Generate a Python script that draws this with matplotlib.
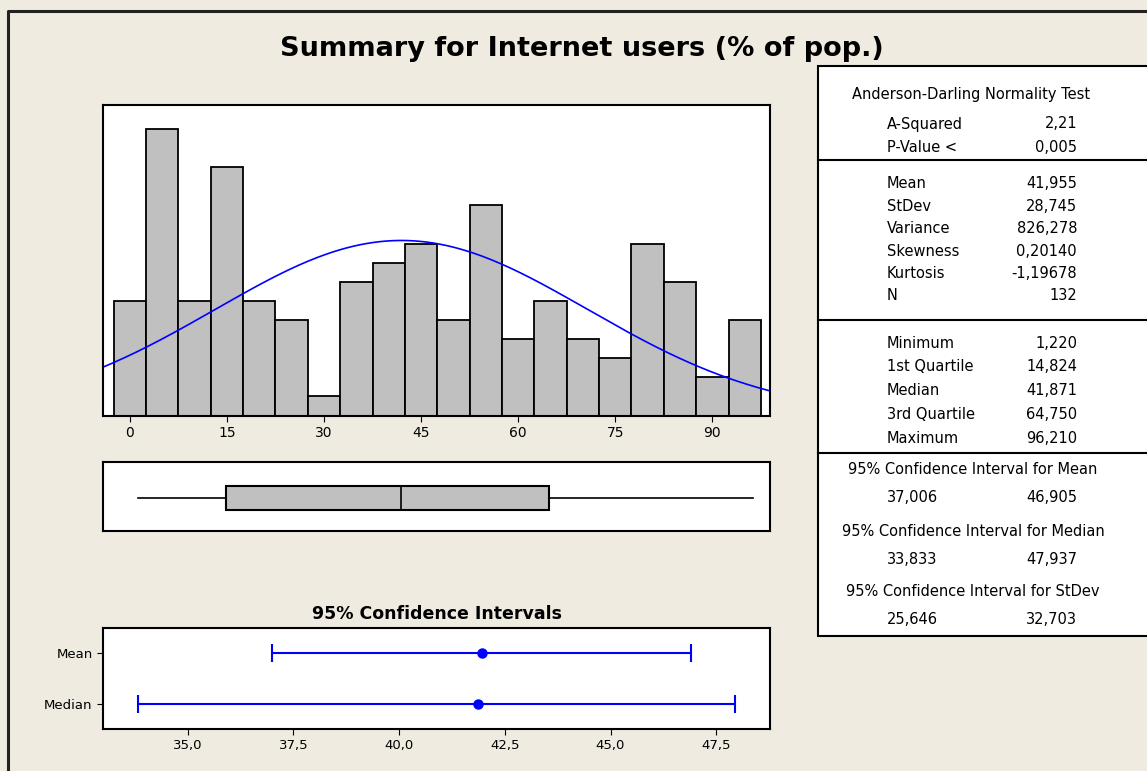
import numpy as np
import matplotlib
matplotlib.use('Agg')
import matplotlib.pyplot as plt
from matplotlib.patches import Rectangle

# histogram data (bin width 5, counts)
bin_centers = [0, 5, 10, 15, 20, 25, 30, 35, 40, 45, 50, 55, 60, 65, 70, 75, 80, 85, 90, 95]
counts = [6, 15, 6, 13, 6, 5, 1, 7, 8, 9, 5, 11, 4, 6, 4, 3, 9, 7, 2, 5]
hist_ticks = [0, 15, 30, 45, 60, 75, 90]

# summary statistics
n_obs = 132
mean_val = 41.955
stdev_val = 28.745
five_num = [1.220, 14.824, 41.871, 64.750, 96.210]  # min, q1, median, q3, max

# confidence intervals
ci_labels = ['Mean', 'Median']
ci_centers = [41.955, 41.871]
ci_low = [37.006, 33.833]
ci_high = [46.905, 47.937]
ci_ticks = [35.0, 37.5, 40.0, 42.5, 45.0, 47.5]
ci_ticklabels = ['35,0', '37,5', '40,0', '42,5', '45,0', '47,5']

# right hand table
ad_rows = [('A-Squared', '2,21'), ('P-Value <', '0,005')]
moment_rows = [('Mean', '41,955'), ('StDev', '28,745'), ('Variance', '826,278'),
               ('Skewness', '0,20140'), ('Kurtosis', '-1,19678'), ('N', '132')]
quart_rows = [('Minimum', '1,220'), ('1st Quartile', '14,824'), ('Median', '41,871'),
              ('3rd Quartile', '64,750'), ('Maximum', '96,210')]
ci_rows = [('95% Confidence Interval for Mean', '37,006', '46,905'),
           ('95% Confidence Interval for Median', '33,833', '47,937'),
           ('95% Confidence Interval for StDev', '25,646', '32,703')]

W, H = 1147, 771
BG = '#EFEBE1'
plt.rcParams['font.family'] = 'DejaVu Sans'

fig = plt.figure(figsize=(W / 100, H / 100), dpi=100)
fig.patch.set_facecolor(BG)


def px_axes(x0, y0, x1, y1):
    return fig.add_axes([x0 / W, 1 - y1 / H, (x1 - x0) / W, (y1 - y0) / H])


# background layer in pixel coordinates
bg = fig.add_axes([0, 0, 1, 1], zorder=0)
bg.set_xlim(0, W)
bg.set_ylim(H, 0)
bg.axis('off')
bg.plot([8, 8, W + 5], [H + 5, 11, 11], color='#222222', lw=2.2, clip_on=False)
bg.text(582, 56, 'Summary for Internet users (% of pop.)', ha='center', va='baseline',
        fontsize=19.5, fontweight='bold')

# stats table
bg.add_patch(Rectangle((818, 66), 340, 570, facecolor='white', edgecolor='black', lw=1.5,
                       clip_on=False))
for yl in [160, 320, 453]:
    bg.plot([818, W + 5], [yl, yl], color='black', lw=1.5, clip_on=False)
fs = 10.5
bg.text(971, 94, 'Anderson-Darling Normality Test', ha='center', va='center', fontsize=fs)


def rows(items, y0, dy):
    for i, (lab, val) in enumerate(items):
        y = y0 + i * dy
        bg.text(887, y, lab, ha='left', va='center', fontsize=fs)
        bg.text(1077, y, val, ha='right', va='center', fontsize=fs)


rows(ad_rows, 124, 23)
rows(moment_rows, 184, 22.4)
rows(quart_rows, 343, 23.8)
for i, (head, lo, hi) in enumerate(ci_rows):
    y = 470 + i * 61
    bg.text(973, y, head, ha='center', va='center', fontsize=fs)
    bg.text(887, y + 28, lo, ha='left', va='center', fontsize=fs)
    bg.text(1077, y + 28, hi, ha='right', va='center', fontsize=fs)

xlo, xhi = -4.15, 98.9

# histogram with fitted normal curve
ax = px_axes(103, 105, 770, 415.5)
ax.set_zorder(1)
ax.bar(bin_centers, counts, width=5, color='#C0C0C0', edgecolor='black', lw=1.3)
xs = np.linspace(xlo, xhi, 300)
ys = n_obs * 5 * np.exp(-0.5 * ((xs - mean_val) / stdev_val) ** 2) / (stdev_val * np.sqrt(2 * np.pi))
ax.plot(xs, ys, color='blue', lw=1.2)
ax.set_xlim(xlo, xhi)
ax.set_ylim(0, 16.25)
ax.set_yticks([])
ax.set_xticks(hist_ticks)
ax.tick_params(axis='x', direction='out', length=4, labelsize=10)
for s in ax.spines.values():
    s.set_linewidth(1.5)

# box plot
axb = px_axes(103, 462, 770, 531)
axb.set_zorder(1)
stats = [{'whislo': five_num[0], 'q1': five_num[1], 'med': five_num[2],
          'q3': five_num[3], 'whishi': five_num[4], 'fliers': []}]
axb.bxp(stats, positions=[0.48], widths=0.35, vert=False, patch_artist=True, showcaps=False,
        boxprops=dict(facecolor='#C0C0C0', edgecolor='black', lw=1.5),
        medianprops=dict(color='black', lw=1.2),
        whiskerprops=dict(color='black', lw=1.2))
axb.set_xlim(xlo, xhi)
axb.set_ylim(0, 1)
axb.set_xticks([])
axb.set_yticks([])
for s in axb.spines.values():
    s.set_linewidth(1.5)

# confidence intervals
bg.text(436.5, 619, '95% Confidence Intervals', ha='center', va='baseline', fontsize=12.5,
        fontweight='bold')
axc = px_axes(103, 628, 770, 729)
axc.set_zorder(1)
ypos = [1, 0]
for y, c, lo, hi in zip(ypos, ci_centers, ci_low, ci_high):
    axc.errorbar([c], [y], xerr=[[c - lo], [hi - c]], fmt='o', color='blue', ms=6.5,
                 lw=1.5, capsize=6.5, capthick=1.5)
axc.set_xlim(33.0, 48.77)
axc.set_ylim(-0.5, 1.5)
axc.set_yticks(ypos)
axc.set_yticklabels(ci_labels)
axc.set_xticks(ci_ticks)
axc.set_xticklabels(ci_ticklabels)
axc.tick_params(direction='out', length=4, labelsize=9.5)
for s in axc.spines.values():
    s.set_linewidth(1.5)

fig.savefig('out.png', dpi=100, facecolor=BG)
